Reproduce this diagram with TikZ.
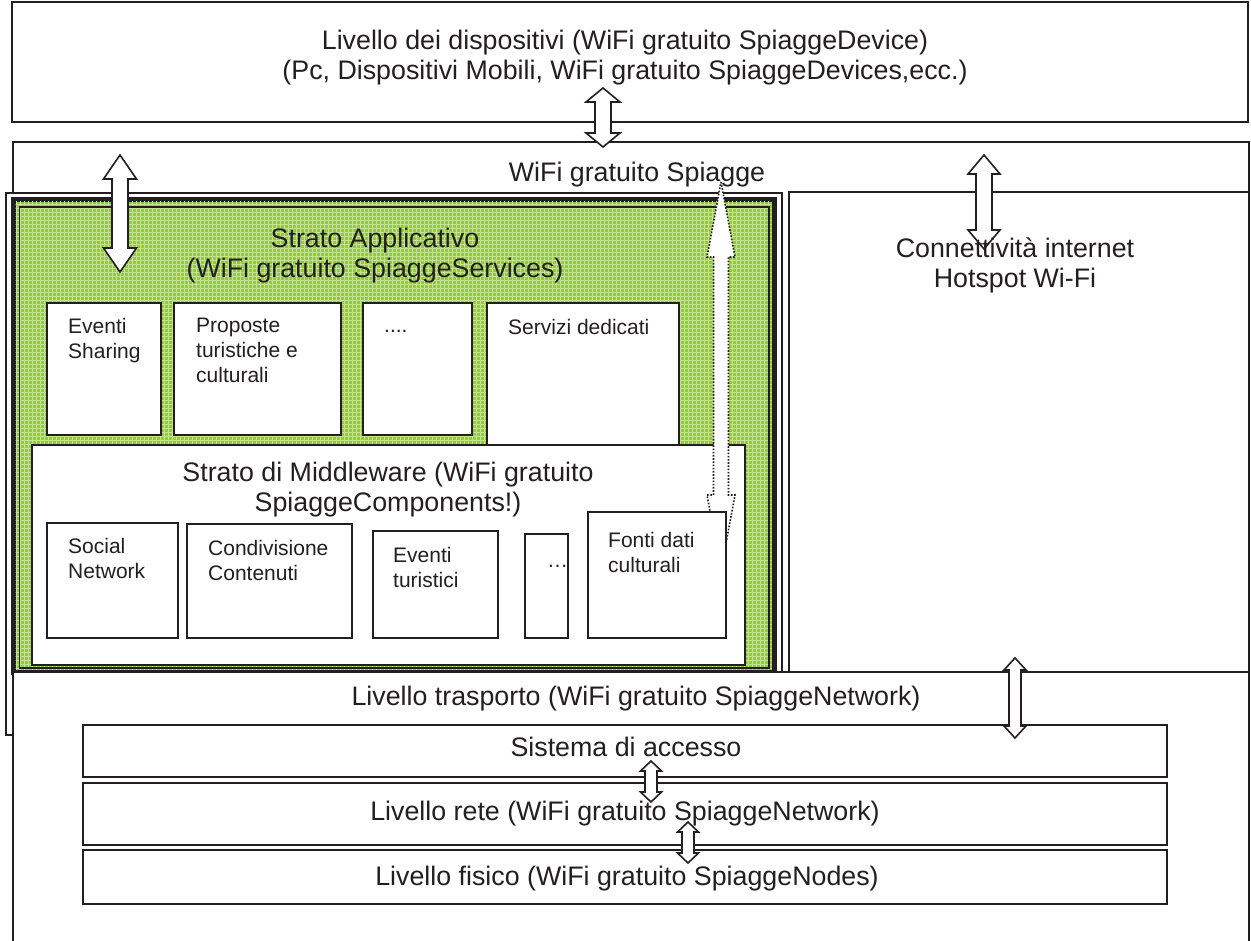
\documentclass[tikz,border=0pt]{standalone}
\usepackage{fontspec}
\setmainfont{Liberation Sans}
\usetikzlibrary{fit}
\definecolor{ln}{RGB}{35,31,32}
\definecolor{grn}{RGB}{150,200,68}
\definecolor{grnl}{RGB}{195,228,140}
\tikzset{
  box/.style={draw=ln, line width=1.6pt, fill=white, inner sep=0pt},
  big/.style={font=\fontsize{26.8}{30}\selectfont, text=ln, inner sep=0pt},
  small/.style={font=\fontsize{21}{25}\selectfont, text=ln, inner sep=0pt, align=left, anchor=north west},
  barrow/.style={draw=ln, line width=1.6pt, fill=white, line join=miter},
  darrow/.style={draw=ln, line width=1.6pt, dash pattern=on 1.6pt off 1.6pt, fill=white},
}
% double block arrow: style, cx, ytop, ybottom, half shaft, half head, head length
\newcommand\dblarr[7]{\draw[#1] (#2,#3) -- (#2+#6,#3+#7) -- (#2+#5,#3+#7) -- (#2+#5,#4-#7) -- (#2+#6,#4-#7) -- (#2,#4) -- (#2-#6,#4-#7) -- (#2-#5,#4-#7) -- (#2-#5,#3+#7) -- (#2-#6,#3+#7) -- cycle;}
\begin{document}
\begin{tikzpicture}[x=1pt,y=-1pt]
\useasboundingbox (0,0) rectangle (1251,941);
\clip (0,0) rectangle (1251,941);
\fill[white] (0,0) rectangle (1251,941);

% outer layers
\node[box, fit={(12,2)(1248,122)}] (dev) {};
\node[box, fit={(13,142)(1249,960)}] (wifi) {};

% green application frame
\node[box, line width=1.2pt, fit={(6,193)(782,735)}] (frA) {};
\node[draw=ln, line width=5pt, fill=grn, inner sep=0pt, fit={(13,199.5)(774,672)}] (frB) {};
\begin{scope}
  \clip (15.5,202) rectangle (771.5,669.5);
  \draw[grnl, line width=0.9pt, step=4pt] (10,195) grid (780,680);
\end{scope}
\node[draw=ln, line width=1.6pt, inner sep=0pt, fit={(19.5,207)(769,668)}] (frC) {};

% connectivity and transport
\node[box, fit={(789,192)(1249,672)}] (conn) {};
\node[box, fit={(13,672)(1249,960)}] (trasp) {};

% application services
\node[box, fit={(47,303)(161,435)}] (ev) {};
\node[box, fit={(174,303)(341,435)}] (prop) {};
\node[box, fit={(363,303)(472,435)}] (dots) {};
\node[box, fit={(487,303)(679,447)}] (serv) {};

% middleware
\node[box, fit={(32,445)(745,665)}] (mid) {};
\dblarr{darrow}{721}{182}{570}{7.5}{14}{75}
\node[box, fit={(47,523)(178,638)}] (soc) {};
\node[box, fit={(187,524)(352,638)}] (cond) {};
\node[box, fit={(373,531)(498,638)}] (evt) {};
\node[box, fit={(525,534)(568,638)}] (ell) {};
\node[box, fit={(588,512)(726,638)}] (fonti) {};

% lower layers
\node[box, fit={(83,725)(1167,777)}] (acc) {};
\node[box, fit={(83,783)(1167,845)}] (rete) {};
\node[box, fit={(83,850)(1167,904)}] (fis) {};

% block arrows
\dblarr{barrow}{603}{88}{147}{8}{17}{14}
\dblarr{barrow}{120}{155}{272}{8}{16.5}{24}
\dblarr{barrow}{984}{155}{249}{8}{16}{19}
\dblarr{barrow}{1015}{658}{738}{6}{11}{12}
\dblarr{barrow}{651}{761}{802}{6}{10.5}{10}
\dblarr{barrow}{688}{822}{863}{6}{10.5}{10}

% texts
\node[big, align=center, anchor=north] (tdev) at (625,29.5) {Livello dei dispositivi (WiFi gratuito SpiaggeDevice)\\(Pc, Dispositivi Mobili, WiFi gratuito SpiaggeDevices,ecc.)};
\node[big, anchor=base] (twifi) at (637,182) {WiFi gratuito Spiagge};
\node[big, align=center, anchor=north] (tapp) at (375,227.5) {Strato Applicativo\\(WiFi gratuito SpiaggeServices)};
\node[big, align=center, anchor=north] (tmid) at (388,462) {Strato di Middleware (WiFi gratuito\\SpiaggeComponents!)};
\node[big, align=center, anchor=north] (tconn) at (1015,238) {Connettività internet\\Hotspot Wi-Fi};
\node[big, anchor=base] (ttr) at (636,705) {Livello trasporto (WiFi gratuito SpiaggeNetwork)};
\node[big, anchor=base] (tacc) at (626,756) {Sistema di accesso};
\node[big, anchor=base] (trete) at (625,820) {Livello rete (WiFi gratuito SpiaggeNetwork)};
\node[big, anchor=base] (tfis) at (627,885) {Livello fisico (WiFi gratuito SpiaggeNodes)};

\node[small] (tev) at (68,318) {Eventi\\Sharing};
\node[small] (tprop) at (196,318) {Proposte\\turistiche e\\culturali};
\node[small, anchor=base west] (tdots) at (384,333) {....};
\node[small] (tserv) at (508,319) {Servizi dedicati};
\node[small] (tsoc) at (68,538) {Social\\Network};
\node[small] (tcond) at (208,540) {Condivisione\\Contenuti};
\node[small] (tevt) at (393,547) {Eventi\\turistici};
\node[small, anchor=base west] (tell) at (547,567) {…};
\node[small] (tfonti) at (608,532) {Fonti dati\\culturali};
\end{tikzpicture}
\end{document}
